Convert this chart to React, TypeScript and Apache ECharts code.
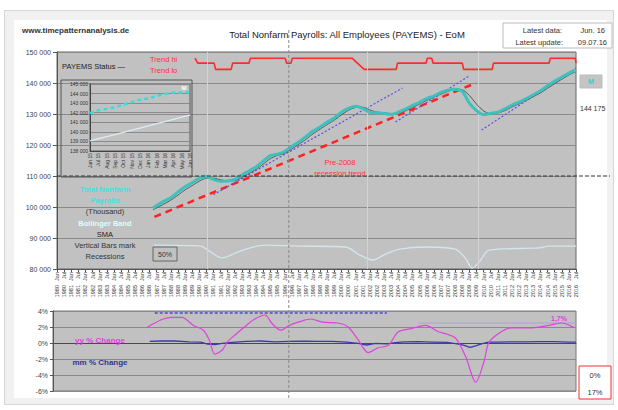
import React, { useEffect, useRef } from "react";
import * as echarts from "echarts";

// ---------- data ----------
const X_MIN = 1980;
const X_MAX = 2016.5;

const payems: [number, number][] = [
  [1986.75, 99700], [1987.5, 101800], [1988.0, 103000], [1988.5, 104800], [1989.0, 106500],
  [1989.5, 107800], [1990.0, 109200], [1990.5, 109800], [1991.0, 108900], [1991.5, 108300],
  [1992.0, 108400], [1992.5, 108900], [1993.0, 110300], [1993.5, 111600], [1994.0, 112900],
  [1994.5, 114800], [1995.0, 116600], [1995.5, 117000], [1996.0, 117900], [1996.5, 119500],
  [1997.0, 121000], [1997.5, 122700], [1998.0, 124500], [1998.5, 125800], [1999.0, 127400],
  [1999.5, 128700], [2000.0, 130600], [2000.5, 131800], [2001.0, 132500], [2001.5, 131800],
  [2002.0, 130500], [2002.5, 130400], [2003.0, 130200], [2003.5, 129900], [2004.0, 130600],
  [2004.5, 131600], [2005.0, 132700], [2005.5, 133800], [2006.0, 135000], [2006.5, 135800],
  [2007.0, 137000], [2007.5, 137700], [2008.0, 138000], [2008.5, 137300], [2009.0, 133500],
  [2009.5, 131100], [2010.0, 129800], [2010.5, 130200], [2011.0, 130600], [2011.5, 131700],
  [2012.0, 132900], [2012.5, 133800], [2013.0, 135000], [2013.5, 136200], [2014.0, 137500],
  [2014.5, 139100], [2015.0, 140600], [2015.5, 141900], [2016.0, 143200], [2016.5, 144175],
];

const sma: [number, number][] = [
  [1986.75, 99100], [1987.5, 100900], [1988.0, 102200], [1988.5, 103800], [1989.0, 105500],
  [1989.5, 106900], [1990.0, 108300], [1990.5, 109300], [1991.0, 109300], [1991.5, 108800],
  [1992.0, 108400], [1992.5, 108500], [1993.0, 109500], [1993.5, 110800], [1994.0, 112100],
  [1994.5, 113800], [1995.0, 115600], [1995.5, 116600], [1996.0, 117300], [1996.5, 118700],
  [1997.0, 120200], [1997.5, 121800], [1998.0, 123600], [1998.5, 125100], [1999.0, 126600],
  [1999.5, 128000], [2000.0, 129700], [2000.5, 131200], [2001.0, 132100], [2001.5, 132200],
  [2002.0, 131300], [2002.5, 130600], [2003.0, 130400], [2003.5, 130100], [2004.0, 130200],
  [2004.5, 131000], [2005.0, 132100], [2005.5, 133200], [2006.0, 134400], [2006.5, 135400],
  [2007.0, 136400], [2007.5, 137300], [2008.0, 137900], [2008.5, 137800], [2009.0, 136000],
  [2009.5, 133200], [2010.0, 131000], [2010.5, 130000], [2011.0, 130300], [2011.5, 131100],
  [2012.0, 132300], [2012.5, 133300], [2013.0, 134400], [2013.5, 135600], [2014.0, 136800],
  [2014.5, 138300], [2015.0, 139800], [2015.5, 141200], [2016.0, 142600], [2016.5, 143700],
];

const trendStatus: [number, number][] = [
  [1989.7, 148000], [1989.9, 146400], [1991.05, 146400], [1991.15, 144400], [1992.25, 144400],
  [1992.35, 146400], [1993.5, 146400], [1993.6, 148000], [1996.05, 148000], [1996.15, 146400],
  [1996.45, 146400], [1996.55, 148000], [2000.75, 148000], [2001.6, 144400], [2003.85, 144400],
  [2003.95, 146400], [2005.95, 146400], [2006.05, 148000], [2006.35, 148000], [2006.45, 146400],
  [2008.5, 146400], [2008.6, 144400], [2010.6, 144400], [2010.7, 146400], [2014.6, 146400],
  [2014.7, 148000], [2016.45, 148000], [2016.5, 146400],
];

const bandPct: [number, number][] = [
  [1986.8, 87700], [1990.1, 87400], [1990.8, 85500], [1991.6, 83600], [1992.9, 85800],
  [1994.6, 87700], [1997.1, 87400], [2000.3, 87100], [2001.3, 84500], [2002.2, 82900],
  [2003.1, 84800], [2004.1, 86400], [2005.9, 87100], [2008.0, 86400], [2008.7, 83600],
  [2009.2, 80300], [2009.7, 82300], [2010.4, 86100], [2013.9, 86800], [2014.6, 87400],
  [2016.5, 87400],
];

const preRecessionTrend: [number, number][] = [[1986.85, 96800], [2009.45, 140000]];
const channelA: [number, number][] = [[1991.0, 104000], [2004.3, 138400]];
const channelB: [number, number][] = [[2003.8, 127400], [2009.0, 142300]];
const channelC: [number, number][] = [[2009.85, 124800], [2016.5, 144800]];

const recessionMarks = [1990.55, 2001.85, 2009.6];
const markerYear = 1996.3;
const levelLine = 110000;

const yyChange: [number, number][] = [
  [1986.6, 2.0], [1987.0, 2.4], [1987.7, 3.0], [1988.3, 3.2], [1989.0, 3.2], [1989.8, 2.2],
  [1990.5, 1.6], [1990.9, 0.4], [1991.3, -1.4], [1991.8, -0.9], [1992.2, 0.2], [1992.7, 1.0],
  [1993.3, 1.9], [1994.0, 2.9], [1994.8, 3.5], [1995.3, 2.4], [1995.9, 1.6], [1996.5, 2.2],
  [1997.1, 2.6], [1998.0, 3.0], [1998.8, 2.6], [1999.9, 2.5], [2000.6, 2.0], [2001.3, 0.4],
  [2002.0, -1.2], [2002.7, -0.6], [2003.4, -0.3], [2004.1, 1.4], [2005.0, 1.8], [2006.0, 2.2],
  [2006.9, 1.4], [2007.5, 1.1], [2008.1, 0.6], [2008.8, -1.7], [2009.5, -4.9], [2010.1, -2.2],
  [2010.4, 0.0], [2011.1, 1.2], [2012.0, 1.9], [2013.4, 1.9], [2014.6, 2.2], [2015.5, 2.5],
  [2016.4, 1.9],
];

const mmChange: [number, number][] = [
  [1986.75, 0.2], [1987.5, 0.25], [1988.5, 0.25], [1989.5, 0.15], [1990.3, 0.1], [1990.8, -0.15],
  [1991.3, -0.2], [1991.8, -0.05], [1992.5, 0.08], [1993.5, 0.2], [1994.5, 0.25], [1995.5, 0.15],
  [1996.5, 0.2], [1997.5, 0.22], [1998.5, 0.2], [1999.5, 0.2], [2000.5, 0.12], [2001.3, -0.05],
  [2001.9, -0.25], [2002.5, -0.05], [2003.3, -0.1], [2003.9, 0.05], [2004.5, 0.15], [2005.5, 0.17],
  [2006.5, 0.12], [2007.5, 0.08], [2008.2, -0.1], [2008.7, -0.3], [2009.1, -0.55], [2009.5, -0.35],
  [2009.9, -0.1], [2010.4, 0.1], [2011.0, 0.1], [2012.0, 0.14], [2013.0, 0.15], [2014.0, 0.18],
  [2015.0, 0.17], [2016.0, 0.12], [2016.5, 0.1],
];

const yyAvgEarly: [number, number][] = [[1987.1, 3.75], [2003.3, 3.75]];
const yyAvgLate: [number, number][] = [[2005.5, 2.5], [2016.5, 2.5]];

const insetMonths = [
  "Jun 15", "Jul 15", "Aug 15", "Sep 15", "Oct 15", "Nov 15", "Dec 15",
  "Jan 16", "Feb 16", "Mar 16", "Apr 16", "May 16", "Jun 16",
];
const insetPayems = [141970, 142250, 142400, 142550, 142850, 143100, 143350, 143500, 143750, 143950, 144100, 144120, 144175];
const insetLower = [139050, 139280, 139500, 139720, 139950, 140170, 140400, 140620, 140850, 141070, 141300, 141530, 141760];

// ---------- styles ----------
const FONT = '"Liberation Sans", Arial, sans-serif';
const PLOT_BG = "#c1c1c1";
const GRID_LINE = "#8a8a8a";
const CYAN = "#3ec1bd";

const thousands = (v: number) => {
  const k = Math.floor(v / 1000);
  const r = String(Math.round(v % 1000)).padStart(3, "0");
  return `${k} ${r}`;
};

const monthLabel = (v: number) => (v - Math.floor(v) < 0.25 ? "Jan" : "Jul");
const yearLabel = (v: number) => `${Math.floor(v)}`;

function buildOption() {
  return {
    animation: false,
    backgroundColor: "transparent",
    textStyle: { fontFamily: FONT },
    grid: [
      { left: 57, top: 52, width: 519, height: 217, show: true, backgroundColor: PLOT_BG, borderColor: "#666", borderWidth: 1 },
      { left: 53, top: 311, width: 523, height: 80, show: true, backgroundColor: PLOT_BG, borderColor: "#777", borderWidth: 1 },
      { left: 90, top: 84, width: 100, height: 67, show: true, backgroundColor: PLOT_BG, borderColor: "#555", borderWidth: 1 },
    ],
    xAxis: [
      {
        type: "value", gridIndex: 0, min: X_MIN, max: X_MAX, interval: 0.5,
        axisLine: { lineStyle: { color: "#555" } },
        axisTick: { show: true, length: 3, lineStyle: { color: "#555" } },
        splitLine: { show: false },
        axisLabel: { rotate: 90, fontSize: 5.5, color: "#333", margin: 3, formatter: monthLabel, showMinLabel: true, showMaxLabel: true },
      },
      {
        type: "value", gridIndex: 0, min: X_MIN, max: X_MAX, interval: 0.5, position: "bottom", offset: 13,
        axisLine: { show: false }, axisTick: { show: false }, splitLine: { show: false },
        axisLabel: { rotate: 90, fontSize: 5.5, color: "#333", margin: 3, formatter: yearLabel, showMinLabel: true, showMaxLabel: true },
      },
      {
        type: "value", gridIndex: 1, min: X_MIN, max: X_MAX, interval: 0.5,
        axisLine: { lineStyle: { color: "#555" } }, axisTick: { show: false },
        splitLine: { show: false }, axisLabel: { show: false },
      },
      {
        type: "category", gridIndex: 2, data: insetMonths, boundaryGap: false,
        axisLine: { lineStyle: { color: "#444" } }, axisTick: { show: false },
        axisLabel: { rotate: 90, fontSize: 5, color: "#333", margin: 2, interval: 0 },
      },
    ],
    yAxis: [
      {
        type: "value", gridIndex: 0, min: 80000, max: 150000, interval: 10000,
        axisLine: { show: true, lineStyle: { color: "#555" } },
        axisTick: { show: true, inside: false, length: 4, lineStyle: { color: "#555" } },
        splitLine: { lineStyle: { color: GRID_LINE, width: 1 } },
        axisLabel: { fontSize: 7, color: "#444", margin: 6, formatter: thousands },
      },
      {
        type: "value", gridIndex: 1, min: -6, max: 4, interval: 2,
        axisLine: { show: true, lineStyle: { color: "#555" } },
        axisTick: { show: true, length: 3, lineStyle: { color: "#555" } },
        splitLine: { lineStyle: { color: GRID_LINE, width: 1 } },
        axisLabel: { fontSize: 7, color: "#444", margin: 5, formatter: (v: number) => `${v}%` },
      },
      {
        type: "value", gridIndex: 2, min: 138000, max: 145000, interval: 1000,
        axisLine: { show: true, lineStyle: { color: "#444" } }, axisTick: { show: false },
        splitLine: { lineStyle: { color: "#8a8a8a" } },
        axisLabel: { fontSize: 5, color: "#333", margin: 2, formatter: thousands },
      },
    ],
    series: [
      {
        name: "Trend status", type: "line", xAxisIndex: 0, yAxisIndex: 0, data: trendStatus,
        symbol: "none", lineStyle: { color: "#ff2b2b", width: 1.6 }, z: 3,
        markLine: {
          silent: true, symbol: "none", label: { show: false },
          lineStyle: { color: "#d3d3d3", type: "solid", width: 1 },
          data: recessionMarks.map((x) => ({ xAxis: x })),
        },
      },
      {
        name: "Band %", type: "line", xAxisIndex: 0, yAxisIndex: 0, data: bandPct,
        symbol: "none", smooth: 0.3, lineStyle: { color: "#d3e6ee", width: 1.3 }, z: 3,
      },
      {
        name: "Pre-2008 recession trend", type: "line", xAxisIndex: 0, yAxisIndex: 0, data: preRecessionTrend,
        symbol: "none", lineStyle: { color: "#ff2020", width: 2.5, type: [7, 5] }, z: 4,
      },
      ...[channelA, channelB, channelC].map((d, i) => ({
        name: `Channel ${i + 1}`, type: "line", xAxisIndex: 0, yAxisIndex: 0, data: d,
        symbol: "none", lineStyle: { color: "#5a4ee6", width: 1.2, type: [2, 2] }, z: 4,
      })),
      {
        name: "SMA", type: "line", xAxisIndex: 0, yAxisIndex: 0, data: sma,
        symbol: "none", smooth: 0.25, lineStyle: { color: "#555", width: 1 }, z: 5,
      },
      {
        name: "PAYEMS", type: "line", xAxisIndex: 0, yAxisIndex: 0, data: payems,
        symbol: "none", smooth: 0.25, lineStyle: { color: CYAN, width: 3 }, z: 6,
      },
      {
        name: "yy % avg early", type: "line", xAxisIndex: 2, yAxisIndex: 1, data: yyAvgEarly,
        symbol: "none", lineStyle: { color: "#4a4ae0", width: 1.3, type: [3, 2] }, z: 3,
      },
      {
        name: "yy % avg late", type: "line", xAxisIndex: 2, yAxisIndex: 1, data: yyAvgLate,
        symbol: "none", lineStyle: { color: "#a9a6d8", width: 1.2 }, z: 3,
      },
      {
        name: "mm % Change", type: "line", xAxisIndex: 2, yAxisIndex: 1, data: mmChange,
        symbol: "none", lineStyle: { color: "#3a3ab0", width: 1.3 }, z: 4,
        markLine: {
          silent: true, symbol: "none", label: { show: false },
          lineStyle: { color: "#4a4a4a", type: "solid", width: 1.2 },
          data: [{ yAxis: 0 }],
        },
      },
      {
        name: "yy % Change", type: "line", xAxisIndex: 2, yAxisIndex: 1, data: yyChange,
        symbol: "none", smooth: 0.3, lineStyle: { color: "#e040e0", width: 1.2 }, z: 5,
      },
      {
        name: "Inset lower", type: "line", xAxisIndex: 3, yAxisIndex: 2, data: insetLower,
        symbol: "none", lineStyle: { color: "#dcecf2", width: 1.3 }, z: 3,
      },
      {
        name: "Inset PAYEMS", type: "line", xAxisIndex: 3, yAxisIndex: 2, data: insetPayems,
        symbol: "none", lineStyle: { color: "#39dcdc", width: 2.5, type: [4, 3] }, z: 4,
      },
    ],
  };
}

function txt(text: string, x: number, y: number, fill: string, size = 7.5, align = "left", weight = "normal") {
  return {
    type: "text", z: 50, silent: true,
    style: { text, x, y, fill, font: `${weight} ${size}px ${FONT}`, textAlign: align, textVerticalAlign: "middle" },
  };
}

function buildGraphics(vx: number, hy: number) {
  return [
    { type: "line", z: 40, silent: true, shape: { x1: vx, y1: 30, x2: vx, y2: 400 }, style: { stroke: "#8a8a8a", lineWidth: 1, lineDash: [3, 2] } },
    { type: "line", z: 40, silent: true, shape: { x1: 57, y1: hy, x2: 610, y2: hy }, style: { stroke: "#333", lineWidth: 1, lineDash: [4, 2] } },
    txt("www.timepatternanalysis.de", 22, 30, "#333", 8, "left", "bold"),
    txt("Total Nonfarm Payrolls: All Employees (PAYEMS) - EoM", 347, 34, "#222", 9.5, "center"),
    { type: "rect", z: 45, silent: true, shape: { x: 503, y: 23, width: 109, height: 25 }, style: { fill: "#fff", stroke: "#bbb", lineWidth: 1 } },
    txt("Latest data:", 562, 30, "#333", 7.5, "right"),
    txt("Jun. 16", 605, 30, "#333", 7.5, "right"),
    txt("Latest update:", 563, 42, "#333", 7.5, "right"),
    txt("09.07.16", 607, 42, "#333", 7.5, "right"),
    txt("PAYEMS Status —", 62, 66, "#222", 7.5),
    txt("Trend hi", 150, 59, "#ff3030", 7.5),
    txt("Trend lo", 150, 70, "#ff3030", 7.5),
    { type: "rect", z: 45, silent: true, shape: { x: 61, y: 80, width: 131, height: 97 }, style: { fill: "none", stroke: "#555", lineWidth: 1 } },
    txt("M", 184, 88, "#f4ffff", 6, "center", "bold"),
    txt("Total Nonfarm", 105, 189, "#3fe0e0", 7.5, "center", "bold"),
    txt("Payrolls", 105, 200, "#3fe0e0", 7.5, "center", "bold"),
    txt("(Thousand)", 105, 211, "#333", 7.5, "center"),
    txt("Bollinger Band", 105, 223, "#dcffff", 7.5, "center", "bold"),
    txt("SMA", 105, 234, "#222", 7.5, "center"),
    txt("Vertical Bars mark", 105, 245, "#333", 7.5, "center"),
    txt("Recessions", 105, 256, "#333", 7.5, "center"),
    { type: "rect", z: 45, silent: true, shape: { x: 153, y: 247, width: 24, height: 14 }, style: { fill: "none", stroke: "#666", lineWidth: 1 } },
    txt("50%", 165, 254, "#333", 7, "center"),
    txt("Pre-2008", 340, 162, "#ff3030", 7.5, "center"),
    txt("recession trend", 340, 173, "#ff3030", 7.5, "center"),
    { type: "rect", z: 45, silent: true, shape: { x: 580, y: 75, width: 22, height: 13 }, style: { fill: "#c4c4c4", stroke: "#bbb", lineWidth: 1 } },
    txt("M", 591, 81.5, "#33d0d0", 7, "center", "bold"),
    txt("144 175", 580, 108, "#333", 7),
    txt("yy % Change", 100, 340, "#e040e0", 8, "center", "bold"),
    txt("mm % Change", 100, 362, "#333399", 8, "center", "bold"),
    txt("1,7%", 559, 318, "#e040e0", 7, "center", "bold"),
    { type: "rect", z: 45, silent: true, shape: { x: 579, y: 366, width: 32, height: 33 }, style: { fill: "#fff", stroke: "#ee3333", lineWidth: 1 } },
    txt("0%", 595, 375, "#333", 7.5, "center"),
    txt("17%", 595, 392, "#333", 7.5, "center"),
  ];
}

export default function App() {
  const ref = useRef<HTMLDivElement>(null);
  useEffect(() => {
    document.body.style.margin = "0";
    if (!ref.current) return;
    const chart = echarts.init(ref.current, null, { renderer: "svg" });
    chart.setOption(buildOption() as any);
    const vx = chart.convertToPixel({ xAxisIndex: 0 } as any, markerYear) as unknown as number;
    const hy = chart.convertToPixel({ yAxisIndex: 0 } as any, levelLine) as unknown as number;
    chart.setOption({ graphic: buildGraphics(vx, hy) } as any);
    return () => chart.dispose();
  }, []);

  return (
    <div style={{ position: "relative", width: 618, height: 410, background: "#fff", overflow: "hidden" }}>
      <div style={{ position: "absolute", left: 4, top: 10, width: 608, height: 393, border: "1px solid #d6d6d6", background: "#f1f1f1" }} />
      <div style={{ position: "absolute", left: 14, top: 20, width: 593, height: 378, background: "#fff" }} />
      <div ref={ref} style={{ position: "absolute", left: 0, top: 0, width: 618, height: 410 }} />
    </div>
  );
}
